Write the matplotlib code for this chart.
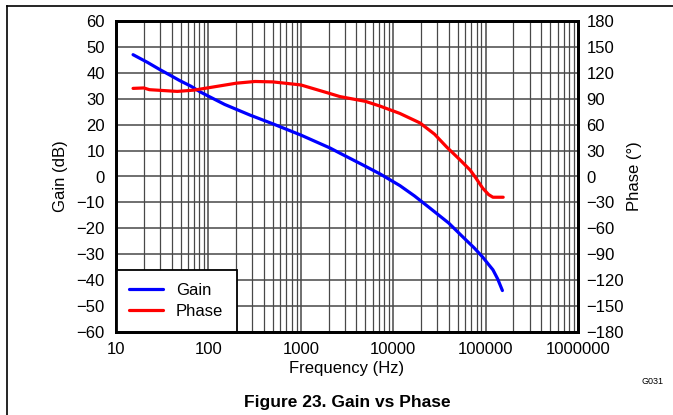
import matplotlib
matplotlib.use('Agg')
import matplotlib.pyplot as plt
from matplotlib.lines import Line2D
from matplotlib.ticker import FixedLocator, LogLocator, NullFormatter, FuncFormatter
import numpy as np

plt.rcParams['font.family'] = ['Liberation Sans', 'DejaVu Sans']
plt.rcParams['axes.unicode_minus'] = True

# gain curve (Hz, dB)
gain_f = [15.3, 22, 30, 38, 49, 65, 81, 100, 150, 282, 500, 1000, 2070, 2650, 4500, 7200, 11800, 17000, 25000, 40000, 57000, 75000, 93000, 108000, 120000, 135000, 152000]
gain_db = [47, 44, 41.2, 39.2, 37, 34.8, 32.7, 31, 27.8, 23.7, 20.3, 16, 11, 9, 4.8, 1, -3.5, -7.5, -12.2, -18, -23.4, -27.5, -31.1, -34, -36, -39.5, -44]

# phase curve (Hz, degrees)
phase_f = [15.3, 20, 23, 46, 70, 104, 200, 320, 500, 1000, 2070, 2650, 5000, 7200, 11800, 19500, 28000, 38000, 52000, 68000, 77000, 93000, 108000, 120000, 155000]
phase_deg = [102, 102.5, 100.5, 98.5, 100, 103, 108, 110, 109.5, 106, 96, 92.5, 87, 81.5, 73, 62, 49, 34, 20, 7.5, -0.5, -13.5, -21, -24, -24]

fig = plt.figure(figsize=(6.73, 4.15), dpi=100)
ax = fig.add_axes([116/673, 1-332/415, 462/673, 311/415])
ax2 = ax.twinx()

ax.set_xscale('log')
ax.set_xlim(10, 1e6)
ax.set_ylim(-60, 60)
ax2.set_ylim(-180, 180)

ax.yaxis.set_major_locator(FixedLocator(np.arange(-60, 61, 10)))
ax2.yaxis.set_major_locator(FixedLocator(np.arange(-180, 181, 30)))
ax.xaxis.set_major_locator(LogLocator(base=10))
ax.xaxis.set_minor_locator(LogLocator(base=10, subs=np.arange(2, 10)))
ax.xaxis.set_minor_formatter(NullFormatter())
ax.xaxis.set_major_formatter(FuncFormatter(lambda v, p: '%d' % round(v)))

ax.grid(True, which='major', axis='both', color='#484848', lw=1.1)
ax.grid(True, which='minor', axis='x', color='#484848', lw=0.9)

gl, = ax.plot(gain_f, gain_db, color='#0000ff', lw=2.3, solid_capstyle='round')
pl, = ax2.plot(phase_f, phase_deg, color='#ff0000', lw=2.3, solid_capstyle='round')

for s in ax.spines.values():
    s.set_linewidth(2)
for s in ax2.spines.values():
    s.set_linewidth(2)
ax.tick_params(which='both', length=0, labelsize=12)
ax.tick_params(axis='y', pad=8)
ax.tick_params(axis='x', pad=7)
ax2.tick_params(which='both', length=0, labelsize=12, pad=6)

ax.set_xlabel('Frequency (Hz)', fontsize=12, labelpad=3)
ax.set_ylabel('Gain (dB)', fontsize=12, labelpad=6)
ax2.set_ylabel('Phase (°)', fontsize=12, labelpad=2)

leg = ax.legend([gl, pl], ['Gain', 'Phase'], loc='lower left', fontsize=12,
                fancybox=False, framealpha=1, edgecolor='black',
                borderaxespad=0, handlelength=2.0, handletextpad=0.8,
                borderpad=0.8, labelspacing=0.35)
leg.get_frame().set_linewidth(1.3)
leg.set_zorder(5)

fig.add_artist(Line2D([7/673, 1], [1-6/415, 1-6/415], color='black', lw=1.2))
fig.add_artist(Line2D([7/673, 7/673], [0, 1-6/415], color='black', lw=1.2))

fig.text(652/673, 1-381/415, 'G031', fontsize=6.5, ha='center', va='center')
fig.text(347/673, 1-402/415, 'Figure 23. Gain vs Phase', fontsize=12.5,
         fontweight='bold', ha='center', va='center')

fig.savefig('out.png', dpi=100)
